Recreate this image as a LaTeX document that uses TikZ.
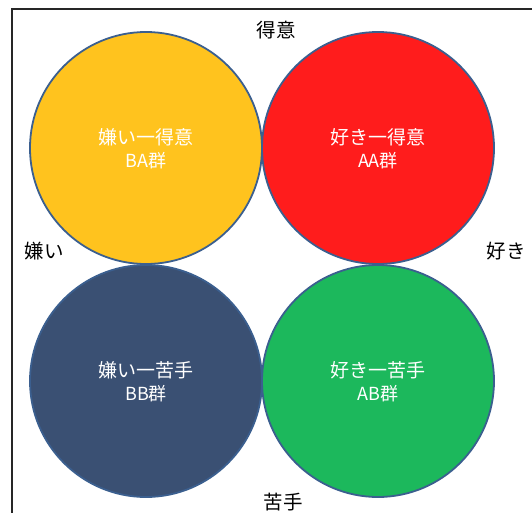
\documentclass[tikz,border=0pt]{standalone}
\usepackage{fontspec}
\setmainfont{Noto Sans CJK JP}
\definecolor{cyellow}{RGB}{255,195,30}
\definecolor{cred}{RGB}{255,28,28}
\definecolor{cnavy}{RGB}{58,80,115}
\definecolor{cgreen}{RGB}{28,184,92}
\definecolor{cedge}{RGB}{59,95,143}
\tikzset{
  quad/.style={circle, draw=cedge, line width=1.8pt, minimum size=232pt, inner sep=0pt},
  lineone/.style={text=white, font=\fontsize{19}{22}\selectfont, inner sep=0pt},
  linetwo/.style={text=white, font=\fontsize{18}{21}\selectfont, inner sep=0pt},
  axis/.style={text=black, font=\fontsize{19.5}{22}\selectfont, inner sep=0pt}
}
\begin{document}
\begin{tikzpicture}[x=1pt,y=-1pt]
\useasboundingbox (0,0) rectangle (532,512);
\draw[line width=2.2pt, black!85] (12,530) -- (12,9) -- (545,9);
\node[quad, fill=cyellow] (ba) at (146,148) {};
\node[quad, fill=cred] (aa) at (378,148) {};
\node[quad, fill=cnavy] (bb) at (146,381) {};
\node[quad, fill=cgreen] (ab) at (378,381) {};
\node[lineone] (ba1) at ([yshift=11pt]ba.center) {嫌い一得意};
\node[linetwo] (ba2) at ([yshift=-13pt]ba.center) {BA群};
\node[lineone] (aa1) at ([yshift=11pt]aa.center) {好き一得意};
\node[linetwo] (aa2) at ([yshift=-13pt]aa.center) {AA群};
\node[lineone] (bb1) at ([yshift=11pt]bb.center) {嫌い一苦手};
\node[linetwo] (bb2) at ([yshift=-13pt]bb.center) {BB群};
\node[lineone] (ab1) at ([yshift=11pt]ab.center) {好き一苦手};
\node[linetwo] (ab2) at ([yshift=-13pt]ab.center) {AB群};
\node[axis] (top) at (276,30) {得意};
\node[axis] (left) at (44,251) {嫌い};
\node[axis] (right) at (506,251) {好き};
\node[axis] (bottom) at (283,502) {苦手};
\end{tikzpicture}
\end{document}
